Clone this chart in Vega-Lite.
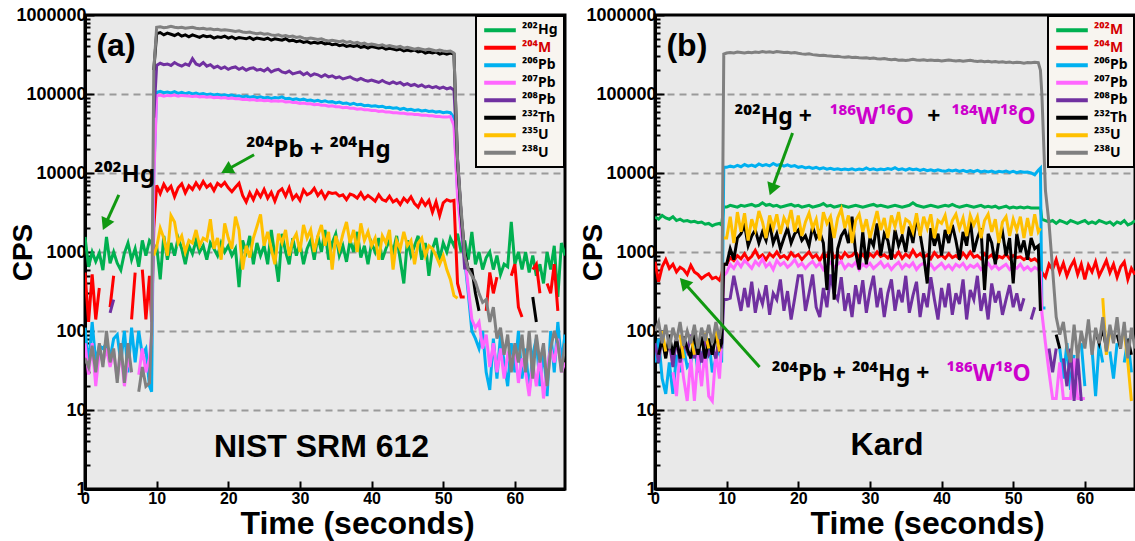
{
"$schema": "https://vega.github.io/schema/vega-lite/v6.json",
"background": "white",
"padding": {"left": 7, "top": 4, "right": 0, "bottom": 0},
"bounds": "flush",
"spacing": 90,
"config": {
  "font": "Liberation Sans",
  "view": {"stroke": "black", "strokeWidth": 3, "fill": "#e9e9e9"},
  "axis": {"labelFont": "Liberation Sans", "titleFont": "Liberation Sans", "labelFontWeight": "bold", "titleFontWeight": "bold", "labelColor": "black", "titleColor": "black", "domainColor": "black", "domainWidth": 3, "tickColor": "black", "tickWidth": 2}
},
"datasets": {
"a": [
{"t":0,"hg":1550,"m":550,"p6":110,"p7":70,"u8":45},
{"t":0.5,"hg":650,"m":130,"p6":35,"p7":28,"u8":35},
{"t":1,"hg":1000,"m":520,"p6":130,"p7":70,"u8":65},
{"t":1.5,"hg":760,"m":140,"p6":40,"p7":20,"u8":30},
{"t":2,"hg":970,"m":350,"p6":65,"p7":55,"u8":70},
{"t":2.5,"hg":590,"p6":60,"p7":40,"u8":35},
{"t":3,"hg":1550,"p6":70,"p7":60,"u8":100},
{"t":3.5,"hg":720,"m":200,"p6":45,"p7":35,"p8":170,"u8":40},
{"t":4,"hg":1000,"m":500,"p6":80,"p7":55,"p8":250,"u8":60},
{"t":4.5,"hg":720,"p6":90,"p7":25,"u8":22},
{"t":5,"hg":590,"m":600,"p6":40,"p7":55,"u8":70},
{"t":5.5,"hg":970,"p6":100,"p7":20,"u8":22},
{"t":6,"hg":1300,"p6":30,"p7":45,"u8":70},
{"t":6.5,"hg":800,"m":140,"p6":110,"p7":30,"u8":30},
{"t":7,"hg":1100,"m":550,"p6":40},
{"t":7.5,"hg":650,"p6":100,"p7":28,"u8":17},
{"t":8,"hg":1400,"m":600,"p6":50,"p7":60,"u8":35},
{"t":8.5,"hg":900,"m":140,"p6":60,"p7":30,"u8":20},
{"t":9,"hg":1400,"m":500,"p6":20,"p7":45,"u8":22},
{"t":9.3,"hg":1300,"m":130,"p6":17,"p7":90,"u8":100},
{"t":9.6,"hg":1000,"m":2000,"p6":10000,"p7":8000,"p8":50000,"th":200000,"u5":900,"u8":200000},
{"t":10,"hg":1200,"m":7000,"p6":105000,"p7":95000,"p8":230000,"th":580000,"u5":1150,"u8":700000},
{"t":10.5,"hg":450,"m":5500,"p6":108000,"p7":97000,"p8":245000,"th":600000,"u5":2000,"u8":710000},
{"t":11,"hg":1600,"m":7200,"p6":104000,"p7":94000,"p8":235000,"th":560000,"u5":1500,"u8":690000},
{"t":11.5,"hg":800,"m":6000,"p6":106000,"p7":96000,"p8":240000,"th":590000,"u5":900,"u8":700000},
{"t":12,"hg":1300,"m":6800,"p6":103000,"p7":95000,"p8":230000,"th":570000,"u5":2900,"u8":720000},
{"t":12.5,"hg":900,"m":5000,"p6":107000,"p7":97000,"p8":250000,"th":550000,"u5":2400,"u8":700000},
{"t":13,"hg":1500,"m":6500,"p6":102000,"p7":94000,"p8":235000,"th":580000,"u5":1300,"u8":690000},
{"t":13.5,"hg":1100,"m":7300,"p6":105000,"p7":96000,"p8":225000,"th":540000,"u5":1600,"u8":700000},
{"t":14,"hg":700,"m":5600,"p6":101000,"p7":95000,"p8":240000,"th":560000,"u5":1000,"u8":680000},
{"t":14.5,"hg":1200,"m":6900,"p6":104000,"p7":94000,"p8":230000,"th":530000,"u5":1400,"u8":690000},
{"t":15,"hg":950,"m":6200,"p6":100000,"p7":93000,"p8":280000,"th":560000,"u5":1300,"u8":700000},
{"t":15.5,"hg":1400,"m":7500,"p6":103000,"p7":94000,"p8":240000,"th":540000,"u5":1900,"u8":680000},
{"t":16,"hg":1000,"m":6400,"p6":99000,"p7":92000,"p8":230000,"th":520000,"u5":1200,"u8":670000},
{"t":16.5,"hg":1200,"m":7800,"p6":101000,"p7":93000,"p8":250000,"th":550000,"u5":1500,"u8":680000},
{"t":17,"hg":800,"m":6600,"p6":98000,"p7":91000,"p8":225000,"th":530000,"u5":1400,"u8":660000},
{"t":17.5,"hg":1300,"m":7200,"p6":100000,"p7":92000,"p8":235000,"th":540000,"u5":2600,"u8":670000},
{"t":18,"hg":1100,"m":6000,"p6":97000,"p7":90000,"p8":215000,"th":510000,"u5":1100,"u8":650000},
{"t":18.5,"hg":900,"m":7400,"p6":99000,"p7":91000,"p8":225000,"th":530000,"u5":1500,"u8":660000},
{"t":19,"hg":1300,"m":6800,"p6":96000,"p7":89000,"p8":210000,"th":520000,"u5":800,"u8":640000},
{"t":19.5,"hg":1000,"m":7600,"p6":98000,"p7":90000,"p8":220000,"th":540000,"u5":2300,"u8":650000},
{"t":20,"hg":1200,"m":6500,"p6":95000,"p7":88000,"p8":205000,"th":510000,"u5":1500,"u8":640000},
{"t":20.5,"hg":900,"m":5800,"p6":97000,"p7":89000,"p8":215000,"th":530000,"u5":1100,"u8":630000},
{"t":21,"hg":1100,"m":6600,"p6":94000,"p7":87000,"p8":220000,"th":500000,"u5":2800,"u8":620000},
{"t":21.5,"hg":360,"m":7400,"p6":95000,"p7":87000,"p8":205000,"th":520000,"u5":1900,"u8":630000},
{"t":22,"hg":1400,"m":5200,"p6":92000,"p7":85000,"p8":215000,"th":510000,"u5":600,"u8":610000},
{"t":22.5,"hg":1000,"m":4300,"p6":94000,"p7":86000,"p8":200000,"th":500000,"u5":1200,"u8":600000},
{"t":23,"hg":1600,"m":5600,"p6":91000,"p7":84000,"p8":210000,"th":520000,"u5":850,"u8":610000},
{"t":23.5,"hg":700,"m":4600,"p6":93000,"p7":85000,"p8":215000,"th":490000,"u5":1500,"u8":590000},
{"t":24,"hg":1300,"m":5900,"p6":90000,"p7":83000,"p8":200000,"th":510000,"u5":2100,"u8":580000},
{"t":24.5,"hg":900,"m":5000,"p6":92000,"p7":84000,"p8":205000,"th":500000,"u5":3000,"u8":590000},
{"t":25,"hg":1200,"m":6200,"p6":89000,"p7":82000,"p8":195000,"th":490000,"u5":1200,"u8":570000},
{"t":25.5,"hg":700,"m":4800,"p6":91000,"p7":83000,"p8":210000,"th":510000,"u5":1800,"u8":580000},
{"t":26,"hg":1900,"m":5700,"p6":88000,"p7":81000,"p8":190000,"th":480000,"u5":1100,"u8":560000},
{"t":26.5,"hg":900,"m":4400,"p6":90000,"p7":82000,"p8":200000,"th":500000,"u5":700,"u8":550000},
{"t":27,"hg":420,"m":5800,"p6":89000,"p7":81000,"p8":205000,"th":490000,"u5":1700,"u8":560000},
{"t":27.5,"hg":1700,"m":6300,"p6":92000,"p7":82000,"p8":190000,"th":480000,"u5":1300,"u8":540000},
{"t":28,"hg":1000,"m":5100,"p6":87000,"p7":79000,"p8":185000,"th":500000,"u5":1900,"u8":550000},
{"t":28.5,"hg":700,"m":6500,"p6":88000,"p7":80000,"p8":195000,"th":470000,"u5":900,"u8":530000},
{"t":29,"hg":1500,"m":4700,"p6":85000,"p7":78000,"p8":180000,"th":480000,"u5":1400,"u8":540000},
{"t":29.5,"hg":900,"m":5300,"p6":87000,"p7":78000,"p8":185000,"th":460000,"u5":1700,"u8":520000},
{"t":30,"hg":1300,"m":4500,"p6":84000,"p7":76000,"p8":190000,"th":470000,"u5":1000,"u8":530000},
{"t":30.5,"hg":700,"m":6100,"p6":86000,"p7":77000,"p8":175000,"th":450000,"u5":2200,"u8":510000},
{"t":31,"hg":1100,"m":5300,"p6":83000,"p7":75000,"p8":185000,"th":460000,"u5":1500,"u8":500000},
{"t":31.5,"hg":1400,"m":5600,"p6":84000,"p7":75000,"p8":170000,"th":440000,"u5":1900,"u8":510000},
{"t":32,"hg":800,"m":6400,"p6":81000,"p7":73000,"p8":180000,"th":450000,"u5":1000,"u8":500000},
{"t":32.5,"hg":1600,"m":5200,"p6":83000,"p7":74000,"p8":175000,"th":440000,"u5":1600,"u8":490000},
{"t":33,"hg":1000,"m":5900,"p6":80000,"p7":72000,"p8":165000,"th":450000,"u5":2200,"u8":500000},
{"t":33.5,"hg":1900,"m":4800,"p6":82000,"p7":72000,"p8":175000,"th":430000,"u5":1200,"u8":480000},
{"t":34,"hg":800,"m":5700,"p6":79000,"p7":70000,"p8":165000,"th":440000,"u5":1800,"u8":470000},
{"t":34.5,"hg":1300,"m":5500,"p6":80000,"p7":71000,"p8":170000,"th":420000,"u5":600,"u8":480000},
{"t":35,"hg":1700,"m":5600,"p6":77000,"p7":69000,"p8":160000,"th":430000,"u5":1600,"u8":470000},
{"t":35.5,"hg":900,"m":5100,"p6":79000,"p7":69000,"p8":165000,"th":410000,"u5":1100,"u8":460000},
{"t":36,"hg":1200,"m":5300,"p6":76000,"p7":67000,"p8":155000,"th":420000,"u5":1700,"u8":470000},
{"t":36.5,"hg":750,"m":4600,"p6":77000,"p7":68000,"p8":160000,"th":400000,"u5":2400,"u8":450000},
{"t":37,"hg":1400,"m":5400,"p6":74000,"p7":66000,"p8":165000,"th":410000,"u5":1300,"u8":460000},
{"t":37.5,"hg":1000,"m":5200,"p6":76000,"p7":66000,"p8":155000,"th":400000,"u5":1900,"u8":440000},
{"t":38,"hg":1800,"m":4800,"p6":73000,"p7":64000,"p8":150000,"th":410000,"u5":1000,"u8":450000},
{"t":38.5,"hg":850,"m":5600,"p6":74000,"p7":65000,"p8":158000,"th":390000,"u5":2300,"u8":430000},
{"t":39,"hg":1200,"m":4700,"p6":71000,"p7":63000,"p8":150000,"th":400000,"u5":1400,"u8":440000},
{"t":39.5,"hg":700,"m":5200,"p6":72000,"p7":63000,"p8":145000,"th":380000,"u5":1800,"u8":420000},
{"t":40,"hg":1300,"m":4800,"p6":70000,"p7":62000,"p8":150000,"th":400000,"u5":1200,"u8":430000},
{"t":40.5,"hg":1000,"m":4400,"p6":71000,"p7":62000,"p8":145000,"th":390000,"u5":1500,"u8":420000},
{"t":41,"hg":1500,"m":5300,"p6":69000,"p7":60000,"p8":140000,"th":380000,"u5":800,"u8":410000},
{"t":41.5,"hg":800,"m":4600,"p6":70000,"p7":61000,"p8":148000,"th":390000,"u5":1600,"u8":420000},
{"t":42,"hg":1100,"m":4400,"p6":67000,"p7":59000,"p8":140000,"th":370000,"u5":1300,"u8":400000},
{"t":42.5,"hg":1400,"m":5100,"p6":68000,"p7":59000,"p8":135000,"th":380000,"u5":1900,"u8":410000},
{"t":43,"hg":1000,"m":4300,"p6":66000,"p7":58000,"p8":142000,"th":370000,"u5":600,"u8":400000},
{"t":43.5,"hg":1600,"m":4600,"p6":67000,"p7":58000,"p8":135000,"th":360000,"u5":1400,"u8":390000},
{"t":44,"hg":800,"m":4000,"p6":64000,"p7":57000,"p8":140000,"th":370000,"u5":1100,"u8":400000},
{"t":44.5,"hg":400,"m":4800,"p6":66000,"p7":57000,"p8":130000,"th":350000,"u5":1800,"u8":380000},
{"t":45,"hg":1400,"m":4300,"p6":63000,"p7":56000,"p8":135000,"th":360000,"u5":1200,"u8":390000},
{"t":45.5,"hg":900,"m":5000,"p6":64000,"p7":56000,"p8":128000,"th":350000,"u5":1400,"u8":380000},
{"t":46,"hg":1200,"m":4100,"p6":62000,"p7":55000,"p8":132000,"th":360000,"u5":700,"u8":370000},
{"t":46.5,"hg":1600,"m":3700,"p6":63000,"p7":55000,"p8":125000,"th":340000,"u5":1300,"u8":380000},
{"t":47,"hg":800,"m":4600,"p6":61000,"p7":54000,"p8":130000,"th":350000,"u5":1500,"u8":370000},
{"t":47.5,"hg":1300,"m":3900,"p6":62000,"p7":54000,"p8":122000,"th":330000,"u5":900,"u8":360000},
{"t":48,"hg":500,"m":4500,"p6":60000,"p7":53000,"p8":126000,"th":340000,"u5":1200,"u8":370000},
{"t":48.5,"hg":1100,"m":3200,"p6":61000,"p7":53000,"p8":120000,"th":330000,"u5":1100,"u8":360000},
{"t":49,"hg":1500,"m":4300,"p6":59000,"p7":52000,"p8":124000,"th":340000,"u5":900,"u8":350000},
{"t":49.5,"hg":800,"m":2900,"p6":60000,"p7":52000,"p8":118000,"th":320000,"u5":700,"u8":360000},
{"t":50,"hg":1300,"m":4200,"p6":58000,"p7":51000,"p8":122000,"th":330000,"u5":900,"u8":350000},
{"t":50.5,"hg":1000,"m":4600,"p6":59000,"p7":51000,"p8":116000,"th":320000,"u5":600,"u8":345000},
{"t":51,"hg":1500,"m":4400,"p6":58000,"p7":52000,"p8":120000,"th":330000,"u5":450,"u8":350000},
{"t":51.5,"hg":1200,"m":4500,"p6":50000,"p7":40000,"p8":112000,"th":320000,"u5":280,"u8":330000},
{"t":52,"hg":1700,"m":400,"p6":6000,"p7":5000,"p8":15000,"th":14000,"u5":260,"u8":15000},
{"t":52.5,"hg":1000,"m":270,"p6":2000,"p7":1800,"p8":3000,"th":3000,"u8":3500},
{"t":53,"hg":1400,"m":270,"p6":800,"p7":900,"p8":600,"th":1000,"u8":900},
{"t":53.5,"hg":800,"p6":300,"p7":350,"th":600,"u8":600},
{"t":54,"hg":1800,"p6":100,"p7":140,"th":600,"u8":500},
{"t":54.5,"hg":700,"p6":80,"p7":110,"th":300,"u8":420},
{"t":55,"hg":1000,"p6":60,"p7":130,"th":180,"u8":300},
{"t":55.5,"hg":600,"p6":100,"p7":60,"u8":230},
{"t":56,"hg":850,"m":180,"p6":30,"p7":90,"u8":250},
{"t":56.5,"hg":1000,"m":550,"p6":18,"p7":35,"u8":130},
{"t":57,"hg":600,"m":300,"p6":80,"p7":70,"u8":200},
{"t":57.5,"hg":900,"m":480,"p6":25,"p7":30,"u8":80},
{"t":58,"hg":520,"p6":90,"p7":60,"u8":110},
{"t":58.5,"hg":700,"p6":40,"p7":25,"u8":50},
{"t":59,"hg":650,"p6":20,"p7":50,"u8":90},
{"t":59.5,"hg":2400,"m":500,"p6":70,"p7":40,"u8":30},
{"t":60,"hg":700,"m":700,"p6":30,"p7":60,"u8":70},
{"t":60.5,"hg":1000,"m":200,"p6":100,"p7":22,"u8":40},
{"t":61,"hg":600,"m":150,"p6":25,"p7":45,"u8":90},
{"t":61.5,"hg":1000,"p6":60,"p7":30,"u8":30},
{"t":62,"hg":550,"p6":17,"p7":15,"u8":100},
{"t":62.5,"hg":900,"m":600,"p6":50,"p7":40,"th":270,"u8":25},
{"t":63,"hg":500,"m":700,"p6":80,"p7":20,"th":130,"u8":90},
{"t":63.5,"hg":700,"m":300,"p6":20,"p7":50,"u8":40},
{"t":64,"hg":400,"p6":60,"p7":14,"u8":70},
{"t":64.5,"hg":1000,"m":400,"p6":15,"p7":35,"u8":20},
{"t":65,"hg":600,"m":300,"p6":100,"p7":60,"u8":60},
{"t":65.5,"hg":1200,"m":700,"p6":30,"p7":40,"u8":100},
{"t":66,"hg":270,"m":180,"p6":130,"p7":80,"u8":70},
{"t":66.5,"hg":1300,"p6":40,"p7":30,"u8":30},
{"t":67,"hg":900,"p6":90,"p7":40,"u8":70}
],
"b": [
{"t":0,"hg":2770,"m":750,"p6":40,"p8":70,"u8":100},
{"t":0.5,"hg":2600,"m":420,"p6":80,"p8":40,"th":50,"u8":130},
{"t":1,"hg":2900,"m":650,"p6":25,"p8":90,"th":80,"u5":100,"u8":70},
{"t":1.5,"hg":2700,"m":800,"p6":16,"p8":50,"th":45,"u5":55,"u8":120},
{"t":2,"hg":2600,"m":620,"p6":40,"p8":75,"th":90,"u8":60},
{"t":2.5,"hg":2800,"m":700,"p6":16,"p7":30,"p8":35,"th":50,"u8":110},
{"t":3,"hg":2500,"m":560,"p6":50,"p7":15,"p8":80,"th":80,"u8":75},
{"t":3.5,"hg":2600,"m":640,"p6":30,"p7":60,"p8":40,"th":45,"u5":90,"u8":130},
{"t":4,"hg":2450,"m":600,"p6":60,"p7":25,"p8":70,"th":85,"u5":45,"u8":65},
{"t":4.5,"hg":2500,"m":520,"p6":35,"p7":13,"p8":55,"th":60,"u8":100},
{"t":5,"hg":2400,"m":680,"p6":40,"p7":45,"p8":90,"th":45,"u5":85,"u8":70},
{"t":5.5,"hg":2450,"m":560,"p6":70,"p7":13,"p8":45,"th":90,"u5":50,"u8":120},
{"t":6,"hg":2350,"m":520,"p6":30,"p7":50,"p8":70,"th":50,"u8":60},
{"t":6.5,"hg":2400,"m":460,"p6":55,"p7":20,"p8":40,"th":85,"u8":110},
{"t":7,"hg":2250,"m":500,"p6":35,"p7":60,"p8":85,"th":45,"u5":95,"u8":75},
{"t":7.5,"hg":2300,"m":530,"p6":80,"p7":15,"p8":50,"th":80,"u5":60,"u8":120},
{"t":8,"hg":2150,"m":460,"p6":30,"p7":13,"p8":60,"th":50,"u8":70},
{"t":8.5,"hg":2250,"m":480,"p6":45,"p7":55,"p8":45,"th":90,"u5":100,"u8":130},
{"t":9,"hg":2300,"m":440,"p6":60,"p7":25,"p8":90,"th":60,"u5":55,"u8":80},
{"t":9.3,"hg":2200,"m":520,"p6":40,"p7":70,"p8":60,"th":70,"u8":120},
{"t":9.6,"hg":3700,"m":700,"p6":11800,"p7":500,"p8":250,"th":700,"u5":1500,"u8":320000},
{"t":10,"hg":3700,"m":700,"p6":11800,"p7":550,"p8":250,"th":700,"u5":1500,"u8":330000},
{"t":10.5,"hg":3900,"m":850,"p6":12200,"p7":700,"p8":260,"th":1100,"u5":2800,"u8":335000},
{"t":11,"hg":3800,"m":780,"p6":11900,"p7":620,"p8":500,"th":800,"u5":1300,"u8":330000},
{"t":11.5,"hg":3700,"m":900,"p6":12500,"p7":750,"p8":300,"th":1500,"u5":3200,"u8":340000},
{"t":12,"hg":3900,"m":820,"p6":12000,"p7":650,"p8":180,"th":1700,"u5":1800,"u8":335000},
{"t":12.5,"hg":3800,"m":950,"p6":12800,"p7":780,"p8":350,"th":2200,"u5":3100,"u8":330000},
{"t":13,"hg":3900,"m":800,"p6":12200,"p7":700,"p8":200,"th":1200,"u5":1400,"u8":338000},
{"t":13.5,"hg":4000,"m":880,"p6":12600,"p7":620,"p8":420,"th":1600,"u5":2600,"u8":332000},
{"t":14,"hg":3800,"m":1050,"p6":12100,"p7":760,"p8":170,"th":1900,"u5":1900,"u8":340000},
{"t":14.5,"hg":3900,"m":850,"p6":13000,"p7":680,"p8":300,"th":1300,"u5":3300,"u8":335000},
{"t":15,"hg":4200,"m":920,"p6":12400,"p7":820,"p8":220,"th":1800,"u5":2400,"u8":345000},
{"t":15.5,"hg":3900,"m":800,"p6":12800,"p7":650,"p8":380,"th":1400,"u5":1500,"u8":338000},
{"t":16,"hg":4000,"m":950,"p6":12300,"p7":720,"p8":160,"th":2300,"u5":2900,"u8":342000},
{"t":16.5,"hg":3800,"m":870,"p6":13200,"p7":600,"p8":300,"th":1300,"u5":2000,"u8":335000},
{"t":17,"hg":3900,"m":1000,"p6":12500,"p7":780,"p8":250,"th":1700,"u5":3000,"u8":345000},
{"t":17.5,"hg":3700,"m":850,"p6":12900,"p7":680,"p8":450,"th":1100,"u5":1700,"u8":340000},
{"t":18,"hg":3800,"m":900,"p6":12200,"p7":740,"p8":180,"th":1500,"u5":2700,"u8":335000},
{"t":18.5,"hg":3900,"m":820,"p6":12700,"p7":640,"p8":320,"th":2000,"u5":2200,"u8":338000},
{"t":19,"hg":4000,"m":980,"p6":12100,"p7":700,"p8":140,"th":1300,"u5":3400,"u8":330000},
{"t":19.5,"hg":3800,"m":870,"p6":12400,"p7":800,"p8":260,"th":1700,"u5":1800,"u8":335000},
{"t":20,"hg":3900,"m":930,"p6":11800,"p7":660,"p8":500,"th":1900,"u5":2900,"u8":328000},
{"t":20.5,"hg":3700,"m":800,"p6":12100,"p7":720,"p8":500,"th":1400,"u5":1600,"u8":322000},
{"t":21,"hg":3800,"m":900,"p6":11600,"p7":620,"p8":180,"th":1600,"u5":2400,"u8":318000},
{"t":21.5,"hg":3900,"m":1000,"p6":11900,"p7":700,"p8":300,"th":1200,"u5":3100,"u8":322000},
{"t":22,"hg":3700,"m":850,"p6":11400,"p7":760,"p8":520,"th":2100,"u5":2000,"u8":315000},
{"t":22.5,"hg":3800,"m":920,"p6":11800,"p7":650,"p8":200,"th":1500,"u5":2600,"u8":312000},
{"t":23,"hg":3900,"m":780,"p6":11300,"p7":720,"p8":150,"th":1800,"u5":1400,"u8":308000},
{"t":23.5,"hg":4100,"m":950,"p6":11600,"p7":600,"p8":350,"th":1300,"u5":3200,"u8":310000},
{"t":24,"hg":3800,"m":880,"p6":11200,"p7":680,"p8":200,"th":330,"u5":2300,"u8":305000},
{"t":24.5,"hg":3900,"m":1100,"p6":11500,"p7":740,"p8":520,"th":2700,"u5":2800,"u8":302000},
{"t":25,"hg":3700,"m":850,"p6":11100,"p7":640,"p8":300,"th":250,"u5":1500,"u8":298000},
{"t":25.5,"hg":3800,"m":930,"p6":11300,"p7":700,"p8":250,"th":1100,"u5":2700,"u8":300000},
{"t":26,"hg":3900,"m":820,"p6":11000,"p7":760,"p8":480,"th":1600,"u5":3500,"u8":295000},
{"t":26.5,"hg":3800,"m":980,"p6":11200,"p7":620,"p8":180,"th":1900,"u5":2000,"u8":292000},
{"t":27,"hg":3700,"m":870,"p6":11000,"p7":700,"p8":300,"th":1300,"u5":2900,"u8":295000},
{"t":27.5,"hg":3800,"m":900,"p6":11300,"p7":660,"p8":150,"th":2800,"u5":1300,"u8":290000},
{"t":28,"hg":3900,"m":1000,"p6":10900,"p7":740,"p8":380,"th":1000,"u5":2500,"u8":292000},
{"t":28.5,"hg":3800,"m":850,"p6":11200,"p7":600,"p8":220,"th":600,"u5":3000,"u8":288000},
{"t":29,"hg":3700,"m":930,"p6":11000,"p7":700,"p8":440,"th":1800,"u5":1800,"u8":285000},
{"t":29.5,"hg":3800,"m":800,"p6":11600,"p7":650,"p8":170,"th":700,"u5":2600,"u8":288000},
{"t":30,"hg":3900,"m":950,"p6":11000,"p7":720,"p8":320,"th":1500,"u5":1500,"u8":282000},
{"t":30.5,"hg":4000,"m":870,"p6":11300,"p7":620,"p8":500,"th":1200,"u5":2200,"u8":285000},
{"t":31,"hg":3800,"m":1000,"p6":10900,"p7":680,"p8":200,"th":2300,"u5":3300,"u8":280000},
{"t":31.5,"hg":3900,"m":880,"p6":11200,"p7":750,"p8":350,"th":900,"u5":1900,"u8":278000},
{"t":32,"hg":3800,"m":920,"p6":11000,"p7":640,"p8":150,"th":1700,"u5":2700,"u8":282000},
{"t":32.5,"hg":3700,"m":840,"p6":11400,"p7":700,"p8":300,"th":1400,"u5":1500,"u8":275000},
{"t":33,"hg":3800,"m":960,"p6":11100,"p7":600,"p8":450,"th":800,"u5":2900,"u8":272000},
{"t":33.5,"hg":3900,"m":860,"p6":11700,"p7":680,"p8":180,"th":1900,"u5":2100,"u8":275000},
{"t":34,"hg":3800,"m":1000,"p6":11000,"p7":740,"p8":330,"th":1200,"u5":3200,"u8":268000},
{"t":34.5,"hg":3700,"m":830,"p6":11300,"p7":620,"p8":230,"th":1600,"u5":1700,"u8":270000},
{"t":35,"hg":3800,"m":940,"p6":10900,"p7":700,"p8":500,"th":1000,"u5":2600,"u8":266000},
{"t":35.5,"hg":3900,"m":860,"p6":11400,"p7":650,"p8":170,"th":2100,"u5":2400,"u8":270000},
{"t":36,"hg":4200,"m":1050,"p6":11000,"p7":730,"p8":280,"th":1300,"u5":1800,"u8":275000},
{"t":36.5,"hg":3900,"m":880,"p6":11200,"p7":600,"p8":420,"th":2700,"u5":3100,"u8":270000},
{"t":37,"hg":3800,"m":950,"p6":10800,"p7":680,"p8":150,"th":1700,"u5":1600,"u8":268000},
{"t":37.5,"hg":3700,"m":850,"p6":11100,"p7":720,"p8":300,"th":900,"u5":2800,"u8":272000},
{"t":38,"hg":3800,"m":920,"p6":10700,"p7":630,"p8":200,"th":400,"u5":2000,"u8":266000},
{"t":38.5,"hg":3900,"m":820,"p6":11000,"p7":700,"p8":480,"th":2000,"u5":3000,"u8":270000},
{"t":39,"hg":3800,"m":980,"p6":10600,"p7":600,"p8":250,"th":1200,"u5":1500,"u8":265000},
{"t":39.5,"hg":3700,"m":860,"p6":11000,"p7":660,"p8":140,"th":1700,"u5":2500,"u8":268000},
{"t":40,"hg":3800,"m":910,"p6":10700,"p7":720,"p8":350,"th":900,"u5":2300,"u8":262000},
{"t":40.5,"hg":3900,"m":830,"p6":10500,"p7":620,"p8":200,"th":1900,"u5":2900,"u8":266000},
{"t":41,"hg":3800,"m":950,"p6":10900,"p7":680,"p8":400,"th":1300,"u5":1700,"u8":270000},
{"t":41.5,"hg":4000,"m":850,"p6":10600,"p7":600,"p8":160,"th":2200,"u5":2500,"u8":265000},
{"t":42,"hg":3800,"m":900,"p6":10900,"p7":700,"p8":300,"th":1400,"u5":3000,"u8":262000},
{"t":42.5,"hg":3700,"m":820,"p6":10500,"p7":650,"p8":220,"th":800,"u5":2000,"u8":266000},
{"t":43,"hg":3800,"m":970,"p6":10800,"p7":720,"p8":450,"th":1800,"u5":2700,"u8":260000},
{"t":43.5,"hg":3900,"m":850,"p6":10400,"p7":610,"p8":140,"th":1200,"u5":1600,"u8":264000},
{"t":44,"hg":3800,"m":1000,"p6":10700,"p7":680,"p8":330,"th":2600,"u5":2900,"u8":268000},
{"t":44.5,"hg":3700,"m":860,"p6":10400,"p7":640,"p8":250,"th":1000,"u5":2200,"u8":262000},
{"t":45,"hg":3800,"m":900,"p6":10800,"p7":700,"p8":500,"th":1500,"u5":2800,"u8":258000},
{"t":45.5,"hg":3900,"m":820,"p6":10300,"p7":600,"p8":180,"th":2000,"u5":1500,"u8":262000},
{"t":46,"hg":3700,"m":950,"p6":10600,"p7":660,"p8":300,"th":330,"u5":2500,"u8":256000},
{"t":46.5,"hg":3800,"m":850,"p6":10300,"p7":720,"p8":140,"th":1700,"u5":3000,"u8":260000},
{"t":47,"hg":3700,"m":920,"p6":10600,"p7":620,"p8":400,"th":1300,"u5":1800,"u8":255000},
{"t":47.5,"hg":3800,"m":800,"p6":10200,"p7":680,"p8":230,"th":700,"u5":2600,"u8":258000},
{"t":48,"hg":3600,"m":880,"p6":10500,"p7":600,"p8":320,"th":1400,"u5":1300,"u8":252000},
{"t":48.5,"hg":3700,"m":840,"p6":10300,"p7":650,"p8":160,"th":1800,"u5":2400,"u8":256000},
{"t":49,"hg":3800,"m":940,"p6":10600,"p7":700,"p8":250,"th":900,"u5":2800,"u8":250000},
{"t":49.5,"hg":3600,"m":820,"p6":10200,"p7":600,"p8":380,"th":1500,"u5":1600,"u8":254000},
{"t":50,"hg":3700,"m":900,"p6":10500,"p7":660,"p8":200,"th":400,"u5":2600,"u8":248000},
{"t":50.5,"hg":3600,"m":850,"p6":10100,"p7":620,"p8":300,"th":1700,"u5":1900,"u8":252000},
{"t":51,"hg":3700,"m":870,"p6":10400,"p7":700,"p8":180,"th":1000,"u5":2800,"u8":250000},
{"t":51.5,"hg":3600,"m":800,"p6":10200,"p7":600,"p8":260,"th":1400,"u5":1500,"u8":246000},
{"t":52,"hg":3700,"m":860,"p6":10300,"p7":650,"th":800,"u5":2700,"u8":250000},
{"t":52.5,"hg":3600,"m":780,"p6":10000,"p7":580,"p8":140,"th":1500,"u5":1600,"u8":248000},
{"t":53,"hg":3600,"m":820,"p6":9500,"p7":640,"p8":200,"th":1100,"u5":3000,"u8":252000},
{"t":53.5,"hg":3600,"m":750,"p6":10800,"p7":600,"th":1200,"u5":1800,"u8":250000},
{"t":53.8,"hg":3600,"m":700,"p6":11500,"p7":550,"th":180,"u5":2000,"u8":200000},
{"t":54,"hg":2600,"m":550,"p6":195,"p7":170,"p8":100,"u8":100000},
{"t":54.5,"hg":2500,"m":480,"p6":195,"p7":70,"u8":6000},
{"t":55,"hg":2400,"m":700,"p7":30,"p8":60,"u8":2300},
{"t":55.5,"hg":2500,"m":600,"p7":14,"p8":30,"u8":600},
{"t":56,"hg":2300,"m":800,"p7":14,"p8":60,"th":90,"u8":150},
{"t":56.5,"hg":2500,"m":550,"p6":60,"p7":40,"th":60,"u8":90},
{"t":57,"hg":2400,"m":720,"p6":25,"p7":14,"p8":45,"u8":130},
{"t":57.5,"hg":2300,"m":500,"p6":70,"p7":14,"p8":20,"u8":60},
{"t":58,"hg":2500,"m":650,"p6":18,"p7":14,"p8":60,"u8":40},
{"t":58.5,"hg":2400,"m":780,"p6":50,"p7":45,"p8":13,"u8":120},
{"t":59,"hg":2300,"m":520,"p7":14,"p8":50,"u5":70,"u8":45},
{"t":59.5,"hg":2400,"m":700,"p6":70,"p7":14,"p8":13,"u8":100},
{"t":60,"hg":2500,"m":450,"p6":20,"p7":14,"u8":60},
{"t":60.5,"hg":2300,"m":680,"u8":140},
{"t":61,"hg":2400,"m":560,"p6":60,"u8":50},
{"t":61.5,"hg":2300,"m":750,"p6":15,"th":100,"u8":110},
{"t":62,"hg":2500,"m":500,"p6":70,"th":70,"u8":70},
{"t":62.5,"hg":2400,"m":620,"p6":40,"th":110,"u5":260,"u8":150},
{"t":63,"hg":2300,"m":780,"th":60,"u5":50,"u8":55},
{"t":63.5,"hg":2400,"m":550,"p6":55,"u5":100,"u8":120},
{"t":64,"hg":2200,"m":700,"p6":25,"u8":70},
{"t":64.5,"hg":2400,"m":480,"p6":70,"th":90,"u8":150},
{"t":65,"hg":2300,"m":650,"th":60,"u8":60},
{"t":65.5,"hg":2500,"m":750,"p6":40,"u5":100,"u8":130},
{"t":66,"hg":2200,"m":450,"p6":80,"th":80,"u5":40,"u8":45},
{"t":66.5,"hg":2300,"m":620,"p6":30,"th":50,"u5":13,"u8":110},
{"t":67,"hg":2500,"m":520,"u8":60}
]
},
"hconcat": [
{
  "width": 480, "height": 474,
  "encoding": {
    "x": {"field": "t", "type": "quantitative", "scale": {"domain": [0, 67], "nice": false, "zero": false},
      "axis": {"values": [0,10,20,30,40,50,60], "title": "Time (seconds)", "titleFontSize": 32, "titleX": 272, "titleY": 34, "titleBaseline": "middle", "titleAlign": "center", "grid": false, "tickSize": -8, "labelFontSize": 16, "labelPadding": 9, "labelFlush": false, "labelOverlap": false}},
    "y": {"field": "cps", "type": "quantitative", "scale": {"type": "log", "domain": [1, 1000000]},
      "axis": {"values": [1,2,3,4,5,6,7,8,9,10,20,30,40,50,60,70,80,90,100,200,300,400,500,600,700,800,900,1000,2000,3000,4000,5000,6000,7000,8000,9000,10000,20000,30000,40000,50000,60000,70000,80000,90000,100000,200000,300000,400000,500000,600000,700000,800000,900000,1000000],
        "labelExpr": "indexof([1,10,100,1000,10000,100000,1000000], datum.value) >= 0 ? format(datum.value, 'd') : ''",
        "title": "CPS", "titleFontSize": 28, "titleX": -62, "titleY": 237, "titleAlign": "center", "titleBaseline": "middle",
        "grid": true, "gridColor": "#9a9a9a", "gridDash": [7, 5], "gridWidth": 2,
        "gridOpacity": {"condition": {"test": "indexof([10,100,1000,10000,100000], datum.value) >= 0", "value": 1}, "value": 0},
        "tickSize": {"condition": {"test": "indexof([1,10,100,1000,10000,100000,1000000], datum.value) >= 0", "value": -9}, "value": -5},
        "labelFontSize": 18, "labelPadding": 8, "labelFlush": false, "labelOverlap": false}}
  },
  "layer": [
    {
      "data": {"name": "a"},
      "transform": [{"fold": ["hg","m","p6","p7","p8","th","u5","u8"], "as": ["iso","cps"]}],
      "mark": {"type": "line", "strokeWidth": 3, "clip": true, "invalid": "break-paths-filter-domains"},
      "encoding": {
        "color": {"field": "iso", "type": "nominal",
          "scale": {"domain": ["hg","m","p6","p7","p8","th","u5","u8"], "range": ["#00b050","#ff0000","#00b0f0","#ff66ff","#7030a0","#000000","#ffc000","#808080"]},
          "legend": {"title": null, "orient": "top-right", "offset": 1,
            "labelExpr": "datum.label=='hg'?'²⁰²Hg':datum.label=='m'?'²⁰⁴M':datum.label=='p6'?'²⁰⁶Pb':datum.label=='p7'?'²⁰⁷Pb':datum.label=='p8'?'²⁰⁸Pb':datum.label=='th'?'²³²Th':datum.label=='u5'?'²³⁵U':'²³⁸U'",
            "symbolType": "stroke", "symbolSize": 1000, "symbolStrokeWidth": 4,
            "labelFontSize": 14, "labelFontWeight": "bold", "labelFont": "Noto Sans", "labelOffset": 4,
            "fillColor": "#f8f5f0", "strokeColor": "black", "padding": 6, "rowPadding": 0.5, "clipHeight": 16.5,
            "encode": {"legend": {"update": {"strokeWidth": {"value": 2}}}, "labels": {"update": {"fill": {"signal": "datum.value == 'm' ? '#d40000' : 'black'"}}}}}
        }
      }
    },
    {
      "data": {"values": [{"t": 4.72, "cps": 5300, "t2": 2.85, "cps2": 2230}, {"t": 23.6, "cps": 17000, "t2": 19.76, "cps2": 10900}]},
      "mark": {"type": "rule", "color": "#119911", "strokeWidth": 3},
      "encoding": {"x2": {"field": "t2"}, "y2": {"field": "cps2"}}
    },
    {
      "data": {"values": [{"t": 2.85, "cps": 2230}]},
      "mark": {"type": "point", "shape": "triangle-up", "filled": true, "color": "#119911", "opacity": 1, "size": 200, "angle": 204.6}
    },
    {
      "data": {"values": [{"t": 19.76, "cps": 10900}]},
      "mark": {"type": "point", "shape": "triangle-up", "filled": true, "color": "#119911", "opacity": 1, "size": 200, "angle": 241.4}
    },
    {
      "data": {"values": [{"t": 1.6, "cps": 405000, "txt": "(a)"}, {"t": 18.0, "cps": 3.4, "txt": "NIST SRM 612"}]},
      "mark": {"type": "text", "align": "left", "baseline": "middle", "fontSize": 32, "fontWeight": "bold", "font": "Liberation Sans", "color": "black"},
      "encoding": {"text": {"field": "txt"}}
    },
    {
      "data": {"values": [{"t": 1.3, "cps": 9400, "txt": "²⁰²Hg"}, {"t": 22.5, "cps": 19500, "txt": "²⁰⁴Pb + ²⁰⁴Hg"}]},
      "mark": {"type": "text", "align": "left", "baseline": "middle", "fontSize": 24, "fontWeight": "bold", "font": "Noto Sans", "color": "black"},
      "encoding": {"text": {"field": "txt"}}
    }
  ]
},
{
  "width": 480, "height": 474,
  "encoding": {
    "x": {"field": "t", "type": "quantitative", "scale": {"domain": [0, 67], "nice": false, "zero": false},
      "axis": {"values": [0,10,20,30,40,50,60], "title": "Time (seconds)", "titleFontSize": 32, "titleX": 272, "titleY": 34, "titleBaseline": "middle", "titleAlign": "center", "grid": false, "tickSize": -8, "labelFontSize": 16, "labelPadding": 9, "labelFlush": false, "labelOverlap": false}},
    "y": {"field": "cps", "type": "quantitative", "scale": {"type": "log", "domain": [1, 1000000]},
      "axis": {"values": [1,2,3,4,5,6,7,8,9,10,20,30,40,50,60,70,80,90,100,200,300,400,500,600,700,800,900,1000,2000,3000,4000,5000,6000,7000,8000,9000,10000,20000,30000,40000,50000,60000,70000,80000,90000,100000,200000,300000,400000,500000,600000,700000,800000,900000,1000000],
        "labelExpr": "indexof([1,10,100,1000,10000,100000,1000000], datum.value) >= 0 ? format(datum.value, 'd') : ''",
        "title": "CPS", "titleFontSize": 28, "titleX": -62, "titleY": 237, "titleAlign": "center", "titleBaseline": "middle",
        "grid": true, "gridColor": "#9a9a9a", "gridDash": [7, 5], "gridWidth": 2,
        "gridOpacity": {"condition": {"test": "indexof([10,100,1000,10000,100000], datum.value) >= 0", "value": 1}, "value": 0},
        "tickSize": {"condition": {"test": "indexof([1,10,100,1000,10000,100000,1000000], datum.value) >= 0", "value": -9}, "value": -5},
        "labelFontSize": 18, "labelPadding": 8, "labelFlush": false, "labelOverlap": false}}
  },
  "layer": [
    {
      "data": {"name": "b"},
      "transform": [{"fold": ["hg","m","p6","p7","p8","th","u5","u8"], "as": ["iso","cps"]}],
      "mark": {"type": "line", "strokeWidth": 3, "clip": true, "invalid": "break-paths-filter-domains"},
      "encoding": {
        "color": {"field": "iso", "type": "nominal",
          "scale": {"domain": ["hg","m","p6","p7","p8","th","u5","u8"], "range": ["#00b050","#ff0000","#00b0f0","#ff66ff","#7030a0","#000000","#ffc000","#808080"]},
          "legend": {"title": null, "orient": "top-right", "offset": 1,
            "labelExpr": "datum.label=='hg'?'²⁰²M':datum.label=='m'?'²⁰⁴M':datum.label=='p6'?'²⁰⁶Pb':datum.label=='p7'?'²⁰⁷Pb':datum.label=='p8'?'²⁰⁸Pb':datum.label=='th'?'²³²Th':datum.label=='u5'?'²³⁵U':'²³⁸U'",
            "symbolType": "stroke", "symbolSize": 1000, "symbolStrokeWidth": 4,
            "labelFontSize": 14, "labelFontWeight": "bold", "labelFont": "Noto Sans", "labelOffset": 4,
            "fillColor": "#f8f5f0", "strokeColor": "black", "padding": 6, "rowPadding": 0.5, "clipHeight": 16.5,
            "encode": {"legend": {"update": {"strokeWidth": {"value": 2}}}, "labels": {"update": {"fill": {"signal": "(datum.value == 'm' || datum.value == 'hg') ? '#d40000' : 'black'"}}}}}
        }
      }
    },
    {
      "data": {"values": [{"t": 19.2, "cps": 32000, "t2": 16.31, "cps2": 6200}, {"t": 14.6, "cps": 35, "t2": 4.04, "cps2": 411}]},
      "mark": {"type": "rule", "color": "#119911", "strokeWidth": 3},
      "encoding": {"x2": {"field": "t2"}, "y2": {"field": "cps2"}}
    },
    {
      "data": {"values": [{"t": 16.31, "cps": 6200}]},
      "mark": {"type": "point", "shape": "triangle-up", "filled": true, "color": "#119911", "opacity": 1, "size": 200, "angle": 200.4}
    },
    {
      "data": {"values": [{"t": 4.04, "cps": 411}]},
      "mark": {"type": "point", "shape": "triangle-up", "filled": true, "color": "#119911", "opacity": 1, "size": 200, "angle": 318.1}
    },
    {
      "data": {"values": [{"t": 1.6, "cps": 405000, "txt": "(b)"}, {"t": 27.3, "cps": 3.6, "txt": "Kard"}]},
      "mark": {"type": "text", "align": "left", "baseline": "middle", "fontSize": 32, "fontWeight": "bold", "font": "Liberation Sans", "color": "black"},
      "encoding": {"text": {"field": "txt"}}
    },
    {
      "data": {"values": [{"t": 11.1, "cps": 51000, "txt": "²⁰²Hg +"}, {"t": 38.0, "cps": 51000, "txt": "+"}, {"t": 16.3, "cps": 28.6, "txt": "²⁰⁴Pb + ²⁰⁴Hg +"}]},
      "mark": {"type": "text", "align": "left", "baseline": "middle", "fontSize": 23, "fontWeight": "bold", "font": "Noto Sans", "color": "black"},
      "encoding": {"text": {"field": "txt"}}
    },
    {
      "data": {"values": [{"t": 24.4, "cps": 51000, "txt": "¹⁸⁶W¹⁶O"}, {"t": 41.4, "cps": 51000, "txt": "¹⁸⁴W¹⁸O"}, {"t": 40.7, "cps": 28.6, "txt": "¹⁸⁶W¹⁸O"}]},
      "mark": {"type": "text", "align": "left", "baseline": "middle", "fontSize": 23, "fontWeight": "bold", "font": "Noto Sans", "color": "#cc00cc"},
      "encoding": {"text": {"field": "txt"}}
    }
  ]
}
],
"resolve": {"scale": {"color": "independent"}, "legend": {"color": "independent"}}
}
